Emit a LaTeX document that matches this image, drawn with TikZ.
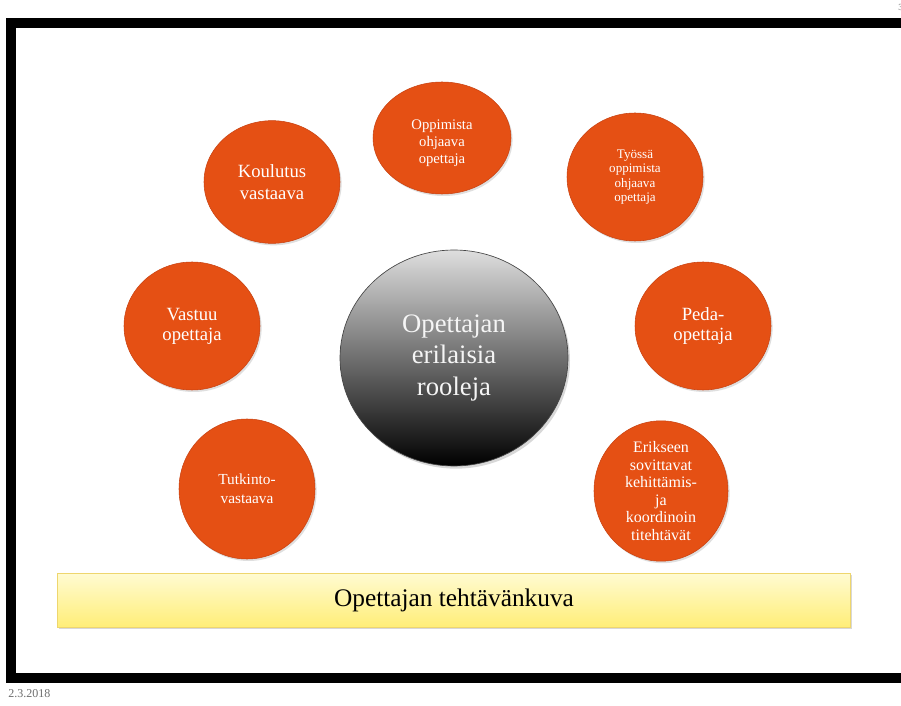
\documentclass[tikz,border=0pt]{standalone}
\usepackage{fontspec}
\setmainfont{Liberation Serif}
\usetikzlibrary{shapes.geometric,shadows}
\definecolor{roleorange}{RGB}{229,80,20}
\definecolor{roleedge}{RGB}{200,66,18}
\definecolor{bartop}{RGB}{255,251,210}
\definecolor{barbot}{RGB}{255,238,120}
\definecolor{baredge}{RGB}{238,214,110}
\definecolor{datecol}{RGB}{110,110,110}
\tikzset{
  role/.style={ellipse, fill=roleorange, draw=roleedge, line width=0.4pt,
    text=white, align=center, inner sep=0pt,
    drop shadow={shadow xshift=1.2pt, shadow yshift=-1.5pt, opacity=0.25}},
  centre/.style={ellipse, draw={rgb,255:red,70;green,70;blue,70}, line width=0.5pt,
    top color={rgb,255:red,222;green,222;blue,222},
    middle color={rgb,255:red,125;green,125;blue,125},
    bottom color=black, text={rgb,255:red,245;green,245;blue,245},
    align=center, inner sep=0pt,
    drop shadow={shadow xshift=1.5pt, shadow yshift=-2pt, opacity=0.3}},
  taskbar/.style={rectangle, draw=baredge, line width=0.6pt,
    top color=bartop, bottom color=barbot, inner sep=0pt,
    drop shadow={shadow xshift=1.2pt, shadow yshift=-1.5pt, opacity=0.3}},
  frame/.style={draw=black, line width=7.5pt},
}
\begin{document}
\begin{tikzpicture}[x=0.75pt,y=-0.75pt]
\useasboundingbox (0,0) rectangle (901,706);
\fill[white] (0,0) rectangle (901,706);
% slide frame
\draw[frame] (11,23) rectangle (915,678);
% page number and date
\node[anchor=west, inner sep=0pt, text=datecol, font=\fontsize{7}{8}\selectfont] (pnum) at (898,7) {3};
\node[anchor=west, inner sep=0pt, text=datecol, font=\fontsize{9}{10}\selectfont] (date) at (8,694) {2.3.2018};
% centre
\node[centre, minimum width=171pt, minimum height=162pt,
  font=\fontsize{20}{23.5}\selectfont] (c) at (454,358) {Opettajan\\erilaisia\\rooleja};
% roles
\node[role, minimum width=103.5pt, minimum height=84pt,
  font=\fontsize{11}{12.8}\selectfont] (r1) at (442,138) {\raisebox{-4pt}[\height][\depth]{\begin{tabular}{@{}c@{}}Oppimista\\ohjaava\\opettaja\end{tabular}}};
\node[role, minimum width=102pt, minimum height=92pt,
  font=\fontsize{14}{16.5}\selectfont] (r2) at (272,182) {Koulutus\\vastaava};
\node[role, minimum width=102pt, minimum height=96pt,
  font=\fontsize{9.8}{10.8}\selectfont] (r3) at (635,177) {Työssä\\oppimista\\ohjaava\\opettaja};
\node[role, minimum width=102pt, minimum height=96pt,
  font=\fontsize{14}{15}\selectfont] (r4) at (192,326) {Vastuu\\opettaja};
\node[role, minimum width=102pt, minimum height=96pt,
  font=\fontsize{14}{15}\selectfont] (r5) at (703,326) {Peda-\\opettaja};
\node[role, minimum width=102pt, minimum height=105pt,
  font=\fontsize{11.5}{14}\selectfont] (r6) at (247,489) {Tutkinto-\\vastaava};
\node[role, minimum width=100.5pt, minimum height=100.5pt,
  font=\fontsize{12}{13.2}\selectfont] (r7) at (661,491) {Erikseen\\sovittavat\\kehittämis-\\ja\\koordinoin\\titehtävät};
% task bar
\node[taskbar, minimum width=595pt, minimum height=40.5pt,
  font=\fontsize{19}{21}\selectfont] (bar) at (454,600) {Opettajan tehtävänkuva};
\end{tikzpicture}
\end{document}
